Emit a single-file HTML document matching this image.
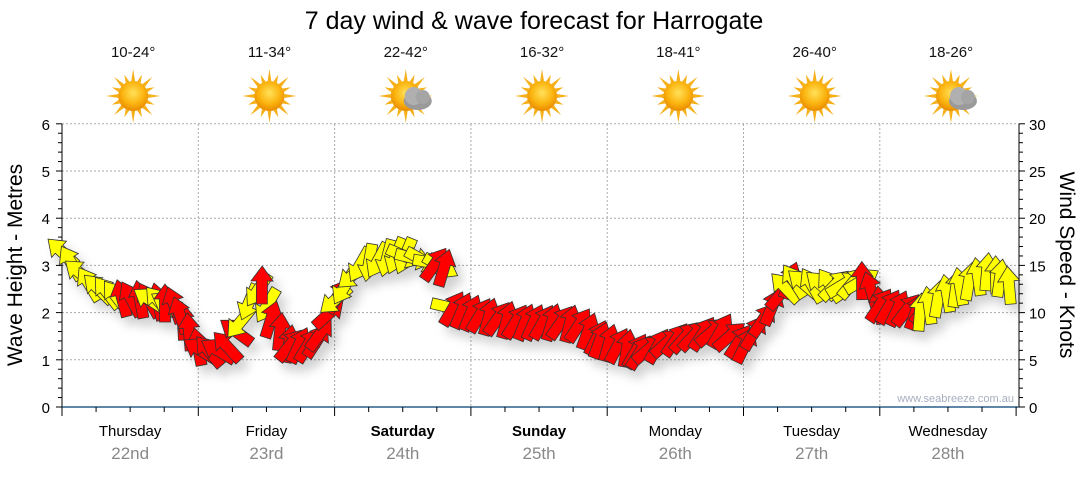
<!DOCTYPE html>
<html><head><meta charset="utf-8"><style>
body{margin:0;background:#fff;width:1080px;height:475px;overflow:hidden;font-family:"Liberation Sans",sans-serif}
</style></head><body>
<svg id="s" width="1080" height="475" xmlns="http://www.w3.org/2000/svg" font-family="Liberation Sans, sans-serif">
<defs>
<radialGradient id="sun" cx="50%" cy="40%" r="60%"><stop offset="0" stop-color="#ffe15a"/><stop offset="0.6" stop-color="#fbb40f"/><stop offset="1" stop-color="#e88a00"/></radialGradient>
<filter id="sh" x="-30%" y="-30%" width="160%" height="160%"><feDropShadow dx="6" dy="8" stdDeviation="5" flood-color="#000" flood-opacity="0.18"/></filter>
</defs>
<text x="534" y="29" font-size="25" text-anchor="middle" fill="#000">7 day wind &amp; wave forecast for Harrogate</text>
<g id="top" font-size="15" text-anchor="middle" fill="#111"></g>
<g id="grid" stroke="#aaa" stroke-dasharray="2,2" stroke-width="1"></g>
<g id="axes"></g>
<text x="1014" y="402" font-size="11" fill="#a8aec0" text-anchor="end">www.seabreeze.com.au</text>
<g id="arr" filter="url(#sh)" stroke="#333" stroke-width="0.8" stroke-linejoin="miter"></g>
<text transform="translate(22,265) rotate(-90)" font-size="21" text-anchor="middle">Wave Height - Metres</text>
<text transform="translate(1060,265) rotate(90)" font-size="21" text-anchor="middle">Wind Speed - Knots</text>
</svg>
<script>
const NS="http://www.w3.org/2000/svg";
function el(p,t,a,txt){const e=document.createElementNS(NS,t);for(const k in a)e.setAttribute(k,a[k]);if(txt!==undefined)e.textContent=txt;document.getElementById(p).appendChild(e);return e}
const X0=62,X1=1019,Y0=407,PY=47.2;
for(let i=1;i<=6;i++){const y=Y0-i*PY;el('grid','line',{x1:X0,x2:X1,y1:y,y2:y})}
const DW=136.3;
for(let d=1;d<7;d++){const x=X0+d*DW;el('grid','line',{x1:x,x2:x,y1:124,y2:Y0})}
el('axes','line',{x1:X0,x2:X0,y1:124,y2:Y0,stroke:'#000'});
el('axes','line',{x1:X1,x2:X1,y1:124,y2:Y0,stroke:'#000'});
el('axes','line',{x1:X0,x2:X1,y1:Y0,y2:Y0,stroke:'#2a5f8a','stroke-width':1.5});
for(let i=0;i<=30;i++){const y=Y0-i*PY/5;const big=i%5==0;
el('axes','line',{x1:X0-(big?6:4),x2:X0,y1:y,y2:y,stroke:'#000'});
el('axes','line',{x1:X1,x2:X1+(big?6:4),y1:y,y2:y,stroke:'#000'});
if(big){el('axes','text',{x:X0-12,y:y+6,'font-size':15,'text-anchor':'end'},i/5);
el('axes','text',{x:X1+10,y:y+6,'font-size':15},i);}}
for(let i=0;i<=28;i++){const x=X0+i*DW/4;const big=i%4==0;el('axes','line',{x1:x,x2:x,y1:Y0,y2:Y0+(big?9:5),stroke:'#000'})}
const days=['Thursday','Friday','Saturday','Sunday','Monday','Tuesday','Wednesday'],dates=['22nd','23rd','24th','25th','26th','27th','28th'],temps=['10-24°','11-34°','22-42°','16-32°','18-41°','26-40°','18-26°'];
days.forEach((d,i)=>{const cx=X0+DW*(i+0.5);const b=(i==2||i==3);
el('axes','text',{x:cx,y:436,'font-size':15,'text-anchor':'middle','font-weight':b?'bold':'normal'},d);
el('axes','text',{x:cx,y:459,'font-size':17,'text-anchor':'middle',fill:'#888'},dates[i]);
el('top','text',{x:cx+3,y:57},temps[i]);
const sx=cx+3,sy=96;
for(let k=0;k<16;k++){const a=k*Math.PI/8,r1=15,r2=k%2?23:27;el('top','polygon',{points:`${sx+Math.cos(a-0.13)*r1},${sy+Math.sin(a-0.13)*r1} ${sx+Math.cos(a)*r2},${sy+Math.sin(a)*r2} ${sx+Math.cos(a+0.13)*r1},${sy+Math.sin(a+0.13)*r1}`,fill:'#f5b01a'})}
el('top','circle',{cx:sx,cy:sy,r:15,fill:'url(#sun)'});
if(i==2||i==6){el('top','ellipse',{cx:sx+12,cy:sy+5,rx:14,ry:9,fill:'#9a9a9a'});el('top','circle',{cx:sx+8,cy:sy,r:9,fill:'#b0b0b0'});el('top','circle',{cx:sx+17,cy:sy+1,r:7,fill:'#a5a5a5'})}
});
const Y='#ffff00',R='#ff0000';
const pts=[
[62,120,252,-130,Y],[122,160,300,-110,R],[150,175,300,-140,Y],[165,185,305,-100,R],
[180,200,340,-100,R],[200,240,352,-140,R],[240,270,290,-240,Y],[262,290,330,-80,R],[290,320,350,-60,R],[320,345,340,-50,R],
[335,360,290,-230,Y],[360,410,262,-250,Y],[405,450,262,20,Y],[435,600,312,-65,R],[600,640,345,-70,R],[640,745,335,-50,R],
[745,790,320,-60,R],[785,835,285,-130,Y],[835,870,280,-40,Y],[862,880,295,-100,R],[880,925,315,-60,R],[920,960,297,-90,Y],[960,1000,280,-90,Y],[1000,1015,290,-90,Y]];
function arrow(x,y,a,c){const L=38,sw=5.5,hw=11,hl=15;
const P=[[-L/2,-sw],[L/2-hl,-sw],[L/2-hl,-hw],[L/2,0],[L/2-hl,hw],[L/2-hl,sw],[-L/2,sw]];
const r=a*Math.PI/180,ca=Math.cos(r),sa=Math.sin(r);
el('arr','polygon',{points:P.map(p=>(x+p[0]*ca-p[1]*sa).toFixed(1)+','+(y+p[0]*sa+p[1]*ca).toFixed(1)).join(' '),fill:c})}
const prof=[[62,252],[90,285],[120,298],[150,300],[175,305],[185,325],[200,350],[215,352],[230,345],[250,300],[262,285],[270,318],[290,345],[315,345],[335,300],[360,265],[400,255],[430,262],[445,268],[440,305],[480,315],[520,322],[560,322],[580,325],[600,340],[640,352],[680,338],[720,330],[745,345],[770,310],[790,280],[810,285],[840,285],[865,280],[880,305],[920,312],[940,297],[990,270],[1015,290]];
pts.forEach(([a,b,_y,ang,c])=>{for(let x=a;x<=b;x+=9){
let yy=_y;for(let k=0;k<prof.length-1;k++){if(x>=prof[k][0]&&x<=prof[k+1][0]){const t=(x-prof[k][0])/(prof[k+1][0]-prof[k][0]);yy=prof[k][1]+t*(prof[k+1][1]-prof[k][1]);break}}
arrow(x,yy,ang+Math.sin(x)*10,c)}});
</script>
</body></html>
